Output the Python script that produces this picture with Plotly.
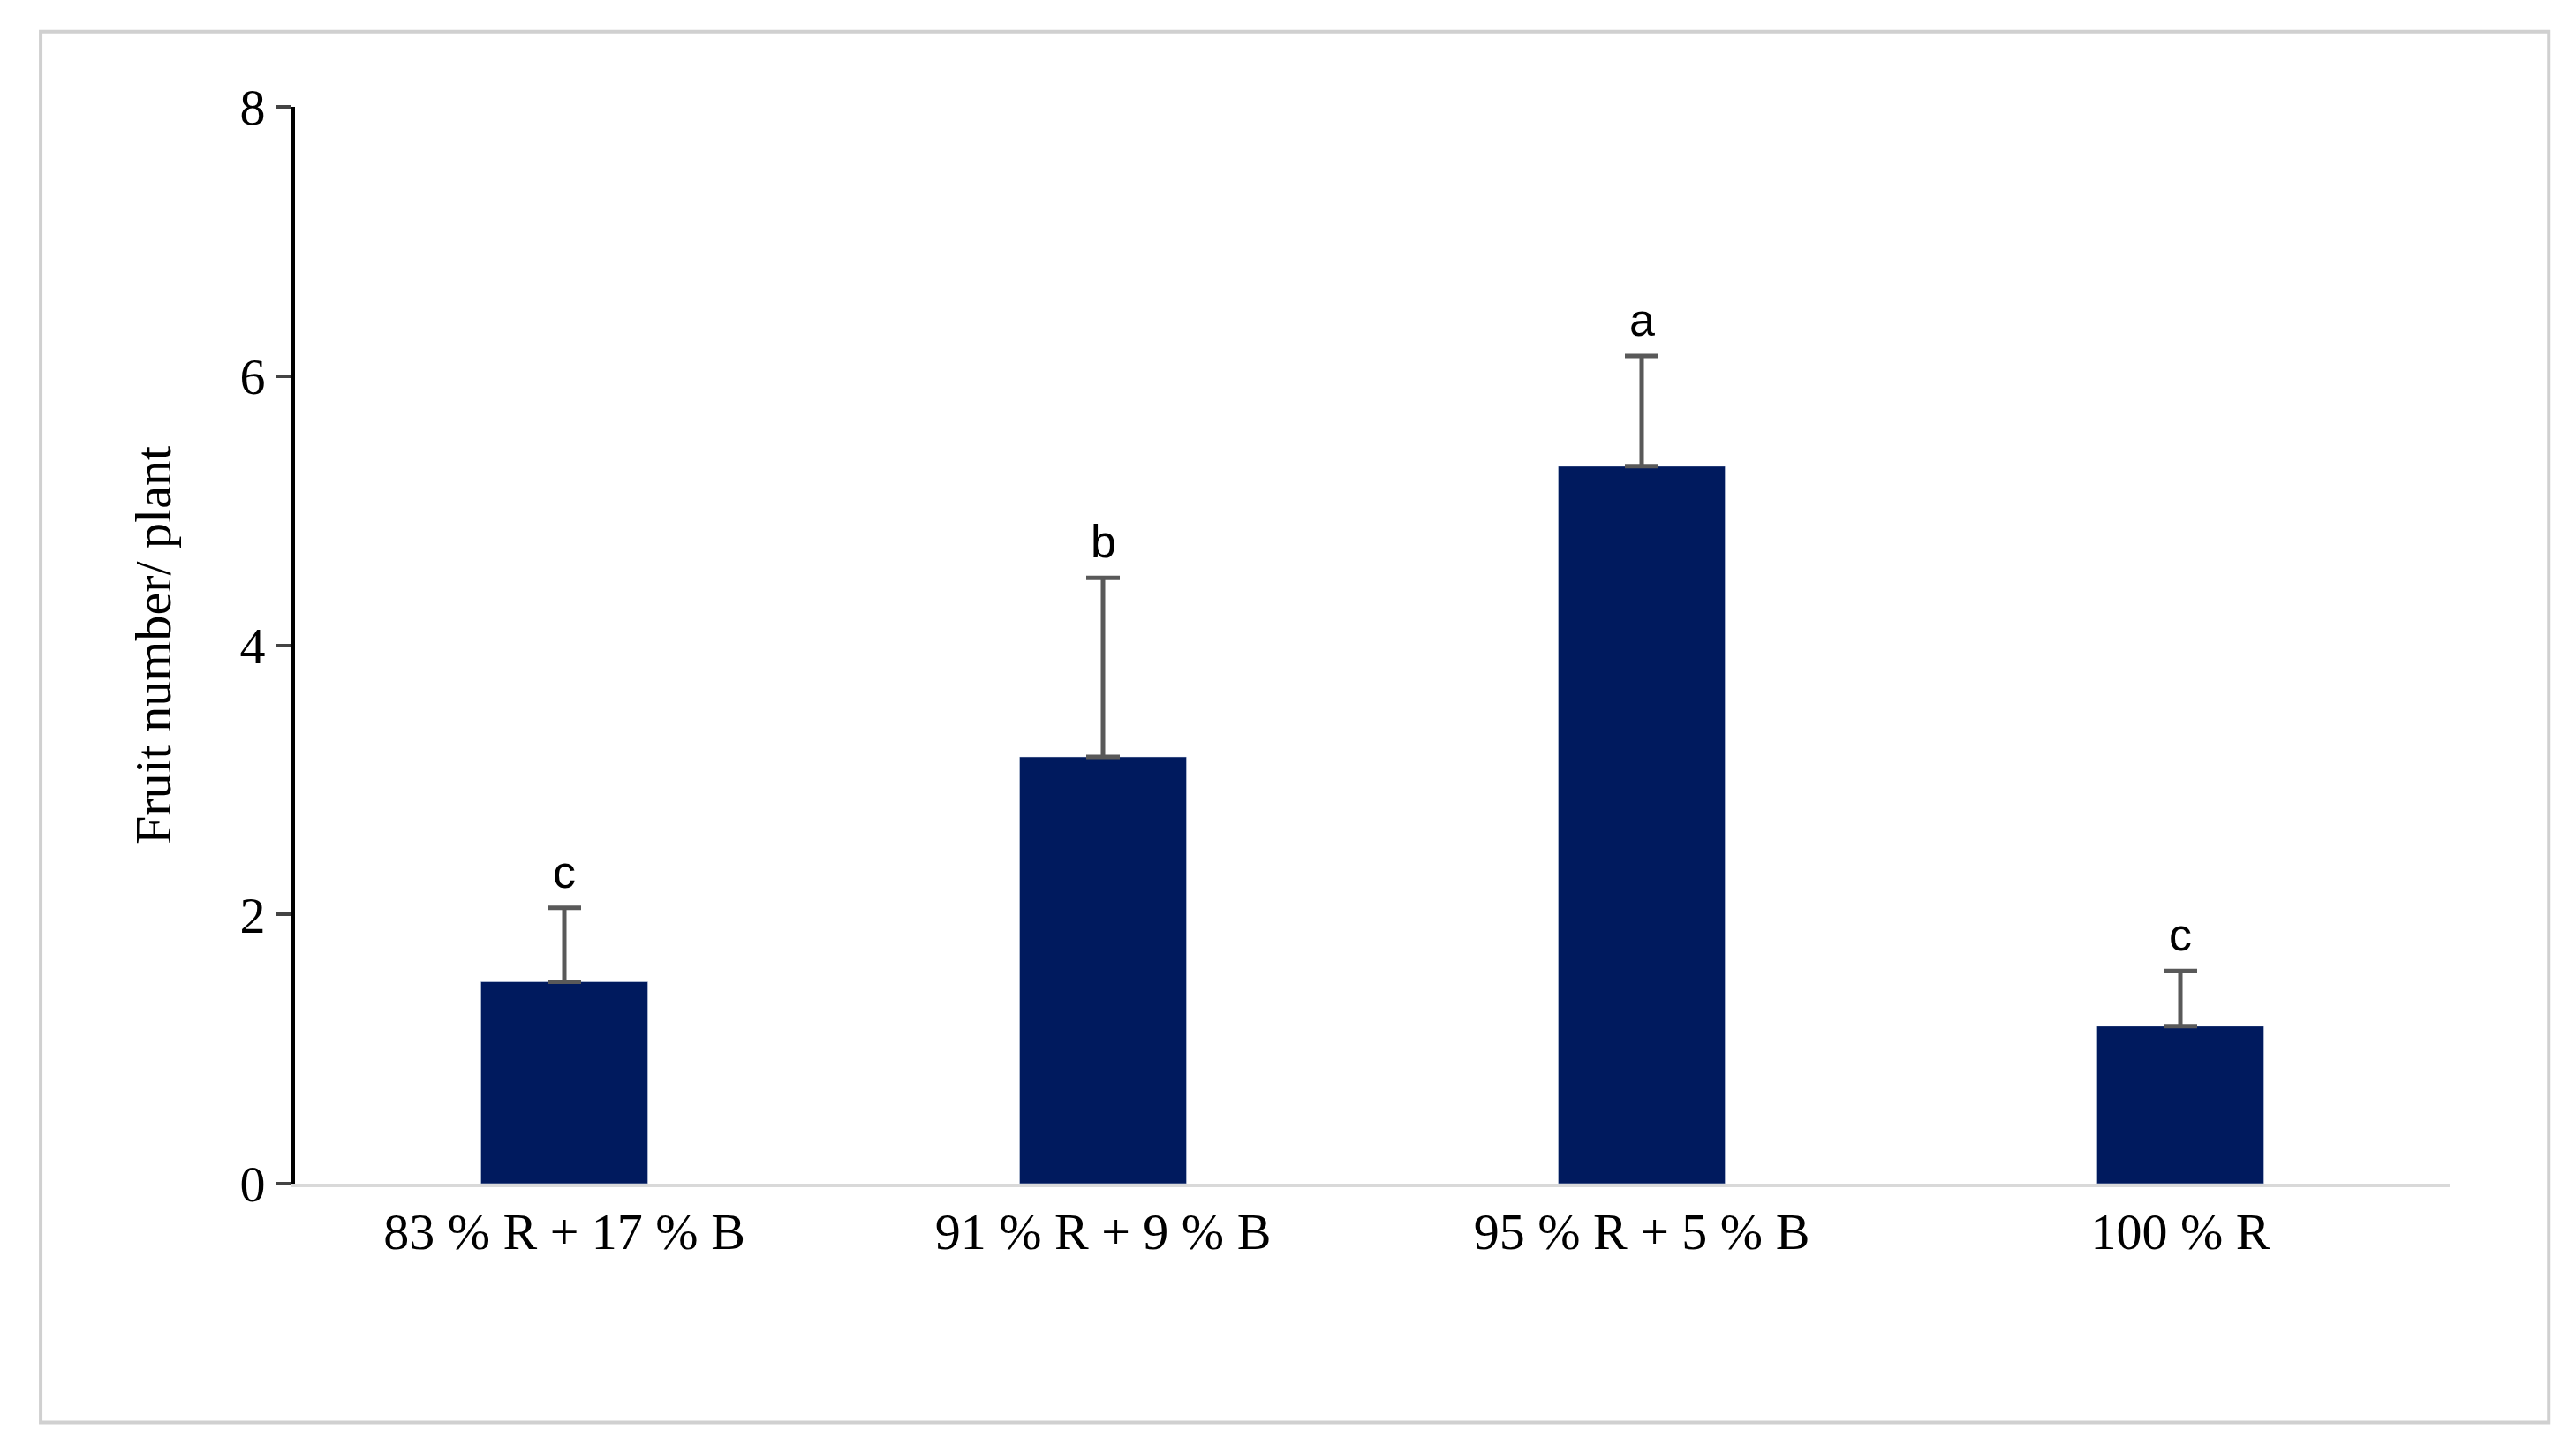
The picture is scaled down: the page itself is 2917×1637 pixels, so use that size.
import plotly.graph_objects as go

categories = ["83 % R + 17 % B", "91 % R + 9 % B", "95 % R + 5 % B", "100 % R"]
values = [1.5, 3.17, 5.33, 1.17]
errors = [0.55, 1.33, 0.82, 0.41]
letters = ["c", "b", "a", "c"]

fig = go.Figure(go.Bar(
    x=categories, y=values, width=0.31, marker_color="#001a5e",
    error_y=dict(type="data", array=errors, symmetric=False, arrayminus=[0]*4,
                 color="#595959", thickness=5, width=19),
))
for c, v, e, l in zip(categories, values, errors, letters):
    fig.add_annotation(x=c, y=v + e, text=l, showarrow=False, yanchor="bottom", yshift=10,
                       font=dict(family="Liberation Sans", size=52, color="black"))
fig.add_shape(type="rect", xref="paper", yref="paper", x0=-0.118, x1=1.046, y0=-0.222, y1=1.07,
              line=dict(color="#d0d0d0", width=4))
fig.update_layout(
    width=2917, height=1637, paper_bgcolor="white", plot_bgcolor="white",
    margin=dict(l=326, r=151, t=113, b=305), showlegend=False,
    font=dict(family="Liberation Serif", size=58, color="black"),
    xaxis=dict(showline=True, linecolor="#d9d9d9", linewidth=4, ticks="", tickfont=dict(size=58)),
    yaxis=dict(range=[0, 8], dtick=2, showline=True, linecolor="black", linewidth=4,
               ticks="outside", ticklen=18, tickwidth=4, showgrid=False, zeroline=False,
               title=dict(text="Fruit number/ plant", font=dict(size=58), standoff=60),
               tickfont=dict(size=58)),
)
fig.write_html("out.html")
